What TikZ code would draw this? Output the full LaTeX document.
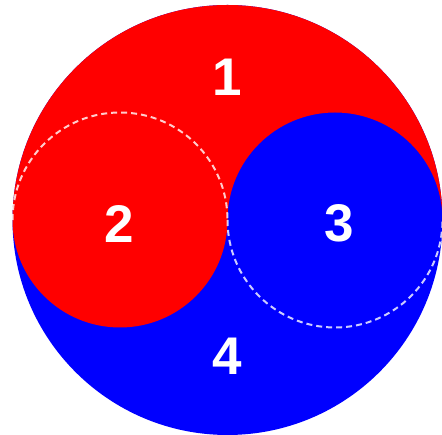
\documentclass[tikz,border=0pt]{standalone}
\usepackage{fontspec}
\setmainfont{Liberation Sans}
\usepackage{xcolor}
\usetikzlibrary{calc}
\definecolor{yangred}{RGB}{255, 0, 0}
\definecolor{yinblue}{RGB}{0, 0, 255}

\begin{document}
\begin{tikzpicture}[x=1pt, y=1pt]
    \useasboundingbox (0,0) rectangle (442,435);
    \tikzset{
        part label/.style={text=white, inner sep=0pt, font=\fontsize{53}{53}\selectfont\bfseries},
        seam/.style={white, opacity=0.8, line width=2pt, dash pattern=on 6pt off 4pt}
    }
    % Centres and radii
    \def\R{215}
    \def\r{107.5}
    \coordinate (O) at (227.5,215);
    \coordinate (L) at (120,215);
    \coordinate (Rc) at (335,215);
    
    % Whole disc in blue
    \fill[yinblue] (O) circle (\R);
    
    % Red part: upper half plus left small disc, minus right small disc
    \fill[yangred] ($(O)+(\R,0)$) arc (0:180:\R)
        arc (180:360:\r)
        arc (180:0:\r) -- cycle;
    
    % Dashed halves of the small circles
    \draw[seam] ($(L)+(-\r,0)$) arc (180:0:\r);
    \draw[seam] ($(Rc)+(-\r,0)$) arc (180:360:\r);
    
    % Labels
    \node[part label] (one) at (227,358) {1};
    \node[part label] (two) at (119,211) {2};
    \node[part label] (three) at (339,212) {3};
    \node[part label] (four) at (227,79) {4};
\end{tikzpicture}
\end{document}
